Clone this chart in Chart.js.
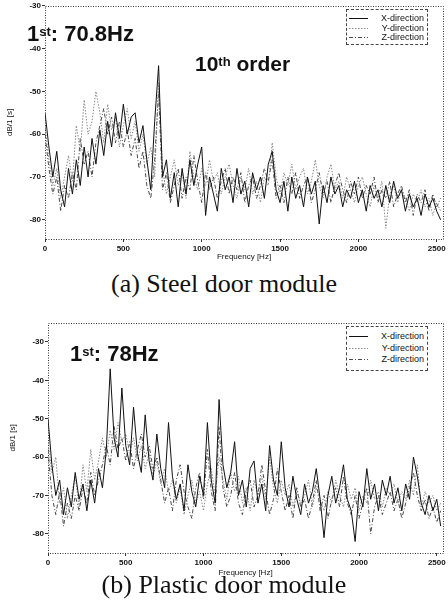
<!DOCTYPE html>
<html>
<head>
<meta charset="utf-8">
<script src="https://cdn.jsdelivr.net/npm/chart.js@4.4.0/dist/chart.umd.min.js"></script>
<style>
  html, body { margin: 0; padding: 0; background: #fff; }
  body { width: 448px; height: 613px; position: relative; overflow: hidden;
         font-family: "Liberation Sans", Arial, sans-serif; color: #111; }
  .wrap { position: absolute; left: 0; width: 448px; }
  .note { position: absolute; font-weight: bold; font-size: 22px; line-height: 22px; white-space: nowrap; }
  .note .sup { font-size: 13px; position: relative; top: -5px; }
  .legend { position: absolute; border: 1px dashed #444; font-size: 9px; background: #fff; }
  .legend .row { position: absolute; left: 2px; right: 3px; height: 10px; line-height: 10px; }
  .legend svg { position: absolute; left: 0; top: 4px; }
  .legend span { position: absolute; right: 0; top: 0; }
  .caption { position: absolute; left: 0; width: 448px; text-align: center;
             font-family: "Liberation Serif", "Times New Roman", serif; font-size: 26px; line-height: 26px; }
</style>
</head>
<body>

<div class="wrap" style="top:0;height:262px"><canvas id="steelChart"></canvas></div>
<div class="note" style="left:27px;top:23px">1<span class="sup">st</span>: 70.8Hz</div>
<div class="note" style="left:195px;top:53px;font-size:21px">10<span class="sup">th</span> order</div>
<div class="legend" id="steelLegend" style="left:346px;top:9px;width:80px;height:34px"></div>
<div class="caption" style="top:271px">(a) Steel door module</div>

<div class="wrap" style="top:317px;height:261px"><canvas id="plasticChart"></canvas></div>
<div class="note" style="left:70px;top:343px">1<span class="sup">st</span>: 78Hz</div>
<div class="legend" id="plasticLegend" style="left:346px;top:326px;width:80px;height:43px"></div>
<div class="caption" style="top:572px">(b) Plastic door module</div>

<script>
const freqStepHz = 25;
const xTickValues = [0, 500, 1000, 1500, 2000, 2500];
const yTickValues = [-80, -70, -60, -50, -40, -30];
const seriesNames = ['X-direction', 'Y-direction', 'Z-direction'];

// (a) steel door module, dB every 25 Hz from 0 to 2525 Hz
const steelX = [
    -55, -63, -70, -64, -73, -77, -68, -74, -66, -72,
    -63, -70, -61, -67, -59, -65, -57, -63, -55, -61,
    -53, -60, -56, -55, -62, -58, -66, -73, -57, -44,
    -70, -66, -75, -69, -77, -68, -74, -66, -72, -67,
    -63, -79, -70, -74, -78, -68, -73, -70, -76, -68,
    -74, -71, -77, -69, -73, -70, -75, -67, -64, -73,
    -76, -71, -78, -70, -75, -72, -77, -70, -74, -71,
    -81, -72, -76, -70, -74, -72, -77, -73, -75, -71,
    -76, -73, -78, -72, -75, -73, -77, -72, -76, -71,
    -75, -73, -78, -74, -77, -75, -79, -74, -77, -75,
    -78, -80
];
const steelY = [
    -58, -66, -72, -68, -75, -70, -65, -71, -58, -64,
    -52, -60, -57, -50, -55, -62, -53, -59, -56, -63,
    -58, -54, -61, -57, -64, -60, -67, -63, -70, -48,
    -68, -74, -70, -66, -72, -69, -75, -64, -70, -73,
    -68, -72, -66, -71, -69, -74, -70, -67, -72, -75,
    -70, -73, -68, -74, -71, -76, -70, -72, -62, -70,
    -74, -69, -72, -67, -73, -70, -68, -74, -71, -66,
    -72, -75, -70, -67, -73, -71, -75, -70, -73, -76,
    -72, -70, -74, -77, -72, -75, -71, -82, -74, -72,
    -76, -73, -75, -78, -74, -76, -73, -77, -75, -79,
    -76, -78
];
const steelZ = [
    -60, -68, -74, -70, -78, -72, -75, -69, -73, -61,
    -67, -64, -70, -62, -58, -54, -60, -56, -62, -57,
    -63, -59, -65, -61, -68, -64, -72, -75, -66, -50,
    -73, -69, -76, -72, -68, -75, -70, -73, -65, -71,
    -76, -69, -73, -70, -75, -71, -68, -74, -70, -73,
    -69, -76, -72, -70, -75, -72, -68, -71, -66, -75,
    -72, -76, -70, -74, -69, -75, -72, -70, -76, -73,
    -69, -74, -71, -76, -72, -69, -73, -76, -71, -74,
    -70, -75, -72, -74, -70, -76, -73, -75, -71, -77,
    -74, -72, -76, -73, -79, -74, -76, -73, -78, -74,
    -77, -75
];

// (b) plastic door module
const plasticX = [
    -50, -62, -70, -66, -75, -68, -73, -64, -71, -67,
    -74, -66, -72, -63, -68, -58, -37, -55, -60, -42,
    -57, -62, -47, -59, -64, -49, -61, -66, -54, -63,
    -68, -51, -65, -71, -67, -74, -62, -69, -73, -65,
    -70, -51, -66, -72, -45, -62, -68, -64, -56, -70,
    -66, -73, -63, -61, -72, -67, -74, -57, -66, -70,
    -56, -68, -73, -65, -71, -75, -67, -72, -69, -63,
    -71, -81, -70, -65, -72, -68, -62, -71, -74, -82,
    -69, -73, -63, -71, -67, -74, -66, -70, -65, -72,
    -68, -74, -67, -71, -60, -65, -72, -75, -70, -74,
    -71, -78
];
const plasticY = [
    -56, -64, -60, -72, -68, -76, -70, -65, -73, -62,
    -69, -58, -66, -61, -55, -60, -53, -58, -51, -56,
    -54, -59, -55, -61, -57, -63, -59, -65, -61, -67,
    -63, -69, -66, -72, -68, -75, -70, -66, -72, -69,
    -74, -67, -63, -70, -60, -66, -71, -64, -69, -65,
    -72, -68, -74, -66, -70, -65, -71, -60, -68, -72,
    -66, -70, -67, -73, -69, -72, -70, -66, -73, -68,
    -71, -74, -69, -72, -66, -70, -73, -67, -71, -68,
    -74, -70, -72, -66, -71, -69, -73, -68, -70, -67,
    -72, -69, -71, -66, -70, -62, -73, -69, -72, -70,
    -74, -72
];
const plasticZ = [
    -58, -70, -75, -69, -78, -72, -76, -70, -74, -68,
    -72, -64, -70, -66, -62, -57, -62, -52, -58, -55,
    -61, -56, -63, -58, -54, -60, -57, -63, -60, -66,
    -72, -68, -74, -66, -62, -69, -73, -76, -68, -64,
    -71, -58, -69, -74, -52, -68, -73, -70, -64, -72,
    -75, -69, -66, -73, -70, -62, -69, -75, -71, -63,
    -69, -74, -70, -76, -68, -73, -71, -76, -72, -66,
    -74, -70, -76, -71, -68, -73, -65, -72, -75, -70,
    -76, -72, -68, -80, -73, -70, -75, -72, -69, -74,
    -71, -76, -72, -68, -64, -70, -74, -71, -76, -73,
    -77, -74
];

const seriesStyles = [
    { color: '#111', dash: [] },
    { color: '#8a8a8a', dash: [1.5, 1.5] },
    { color: '#4a4a4a', dash: [4, 2, 1, 2] }
];

const tickFont = { family: '"Liberation Sans", Arial, sans-serif', size: 8, weight: 'bold' };
const titleFont = { family: '"Liberation Sans", Arial, sans-serif', size: 8 };

function toPoints(values) {
    return values.map(function (v, i) {
        return { x: i * freqStepHz, y: v };
    });
}

// dotted frame round the plot area
const plotFrame = {
    id: 'plotFrame',
    afterDatasetsDraw(chart) {
        const a = chart.chartArea;
        const ctx = chart.ctx;
        ctx.save();
        ctx.strokeStyle = '#333';
        ctx.lineWidth = 1;
        ctx.setLineDash([1, 1.5]);
        ctx.strokeRect(Math.round(a.left) + 0.5, Math.round(a.top) + 0.5,
            Math.round(a.right - a.left), Math.round(a.bottom - a.top));
        ctx.restore();
    }
};

function buildChart(canvasId, seriesList, yMin, yMax, yAxisWidth, xAxisHeight, yTitlePad) {
    const datasets = seriesList.map(function (values, i) {
        return {
            label: seriesNames[i],
            data: toPoints(values),
            borderColor: seriesStyles[i].color,
            borderDash: seriesStyles[i].dash,
            borderWidth: 1,
            pointRadius: 0,
            tension: 0,
            fill: false
        };
    });

    return new Chart(document.getElementById(canvasId), {
        type: 'line',
        data: { datasets: datasets },
        options: {
            responsive: true,
            maintainAspectRatio: false,
            animation: false,
            events: [],
            layout: { padding: { top: 5, right: 5, left: 0, bottom: 0 } },
            plugins: {
                legend: { display: false },
                tooltip: { enabled: false }
            },
            scales: {
                x: {
                    type: 'linear',
                    min: 0,
                    max: 2540,
                    afterBuildTicks: function (s) {
                        s.ticks = xTickValues.map(function (v) { return { value: v }; });
                    },
                    afterFit: function (s) { s.height = xAxisHeight; },
                    grid: { drawOnChartArea: false, tickLength: 3, color: '#333' },
                    border: { display: false },
                    ticks: {
                        padding: 2, color: '#111', font: tickFont, maxRotation: 0, autoSkip: false,
                        callback: function (v) { return String(v); }
                    },
                    title: {
                        display: true, text: 'Frequency [Hz]', color: '#111', font: titleFont,
                        padding: { top: 0, bottom: 0 }
                    }
                },
                y: {
                    min: yMin,
                    max: yMax,
                    afterBuildTicks: function (s) {
                        s.ticks = yTickValues.map(function (v) { return { value: v }; });
                    },
                    afterFit: function (s) { s.width = yAxisWidth; },
                    grid: { drawOnChartArea: false, tickLength: 3, color: '#333' },
                    border: { display: false },
                    ticks: {
                        padding: 1, color: '#111', font: tickFont,
                        callback: function (v) { return String(v); }
                    },
                    title: {
                        display: true, text: 'dB/1 [s]', color: '#111', font: titleFont,
                        padding: { top: yTitlePad, bottom: 0 }
                    }
                }
            }
        },
        plugins: [plotFrame]
    });
}

function buildLegend(id, rowTops) {
    const box = document.getElementById(id);
    seriesNames.forEach(function (name, i) {
        const row = document.createElement('div');
        row.className = 'row';
        row.style.top = rowTops[i] + 'px';
        const dash = seriesStyles[i].dash.join(' ');
        row.innerHTML = '<svg width="19" height="3"><line x1="0" y1="1.5" x2="19" y2="1.5" stroke="' +
            seriesStyles[i].color + '" stroke-width="1" stroke-dasharray="' + dash + '"/></svg>' +
            '<span>' + name + '</span>';
        box.appendChild(row);
    });
}

buildChart('steelChart', [steelX, steelY, steelZ], -84.5, -30, 45, 23, 5);
buildChart('plasticChart', [plasticX, plasticY, plasticZ], -85, -25, 48, 25, 8);
buildLegend('steelLegend', [3, 13, 22]);
buildLegend('plasticLegend', [4, 16, 27]);
</script>
</body>
</html>
